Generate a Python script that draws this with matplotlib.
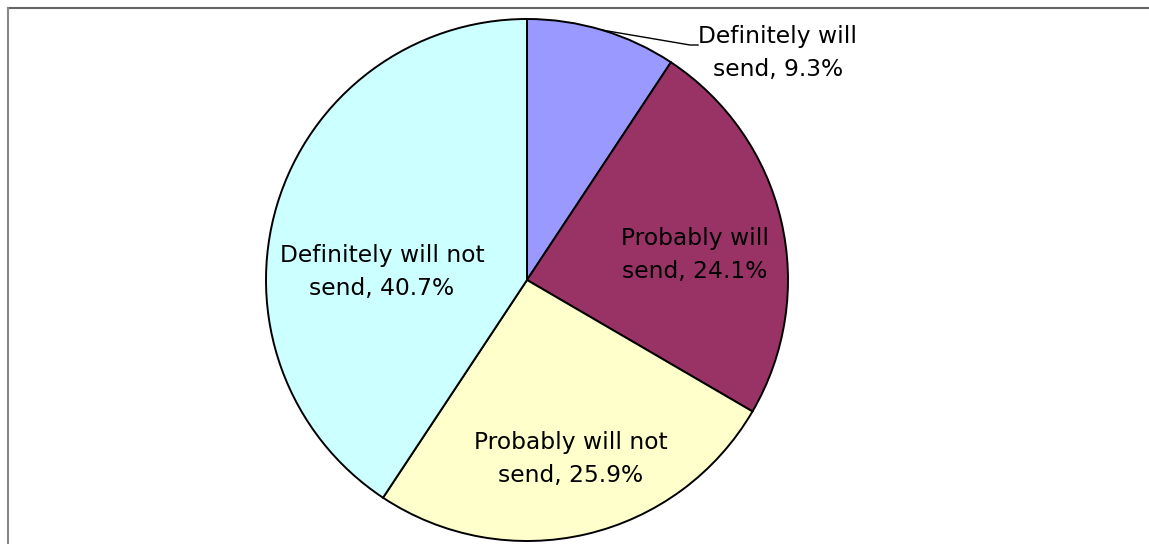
import matplotlib
matplotlib.use("Agg")
import matplotlib.pyplot as plt
from matplotlib.lines import Line2D
import numpy as np

labels = ["Definitely will\nsend, 9.3%", "Probably will\nsend, 24.1%",
          "Probably will not\nsend, 25.9%", "Definitely will not\nsend, 40.7%"]
values = [9.3, 24.1, 25.9, 40.7]
colors = ["#9999FF", "#993366", "#FFFFCC", "#CCFFFF"]

W, H = 1149, 544
fig = plt.figure(figsize=(W / 100, H / 100), dpi=100)
cx, cy, R = 527, 280, 261
ax = fig.add_axes([(cx - R) / W, (H - cy - R) / H, 2 * R / W, 2 * R / H])

wedges, _ = ax.pie(values, colors=colors, startangle=90, counterclock=False,
                   radius=1, center=(0, 0),
                   wedgeprops=dict(edgecolor="black", linewidth=1.4))
ax.set_xlim(-1, 1)
ax.set_ylim(-1, 1)
ax.axis("off")
for w in wedges:
    w.set_clip_on(False)

def px(x, y):
    return ((x - cx) / R, (cy - y) / R)

fs = 16.8
font = "DejaVu Sans"
ls = 1.52
pos = [None, (695, 255), (571, 459), (382, 272)]
for lab, p in zip(labels[1:], pos[1:]):
    x, y = px(*p)
    ax.text(x, y, lab, ha="center", va="center", fontsize=fs, family=font,
            linespacing=ls, clip_on=False)

# leader label for the small slice
th = np.deg2rad(wedges[0].theta1 + wedges[0].theta2) / 2
ex, ey = np.cos(th), np.sin(th)
x1, y1 = px(690, 45)
x2, y2 = px(698, 45)
ax.add_line(Line2D([ex, x1, x2], [ey, y1, y2], color="black", lw=1.0, clip_on=False))
tx, ty = px(778, 53)
ax.text(tx, ty, labels[0], ha="center", va="center", fontsize=fs, family=font,
        linespacing=ls, clip_on=False)

# frame
fig.add_artist(Line2D([8 / W, 1], [1 - 8 / H, 1 - 8 / H], transform=fig.transFigure,
                      color="#666666", lw=1.5))
fig.add_artist(Line2D([8 / W, 8 / W], [0, 1 - 8 / H], transform=fig.transFigure,
                      color="#888888", lw=1.5))

fig.savefig("out.png", dpi=100)
